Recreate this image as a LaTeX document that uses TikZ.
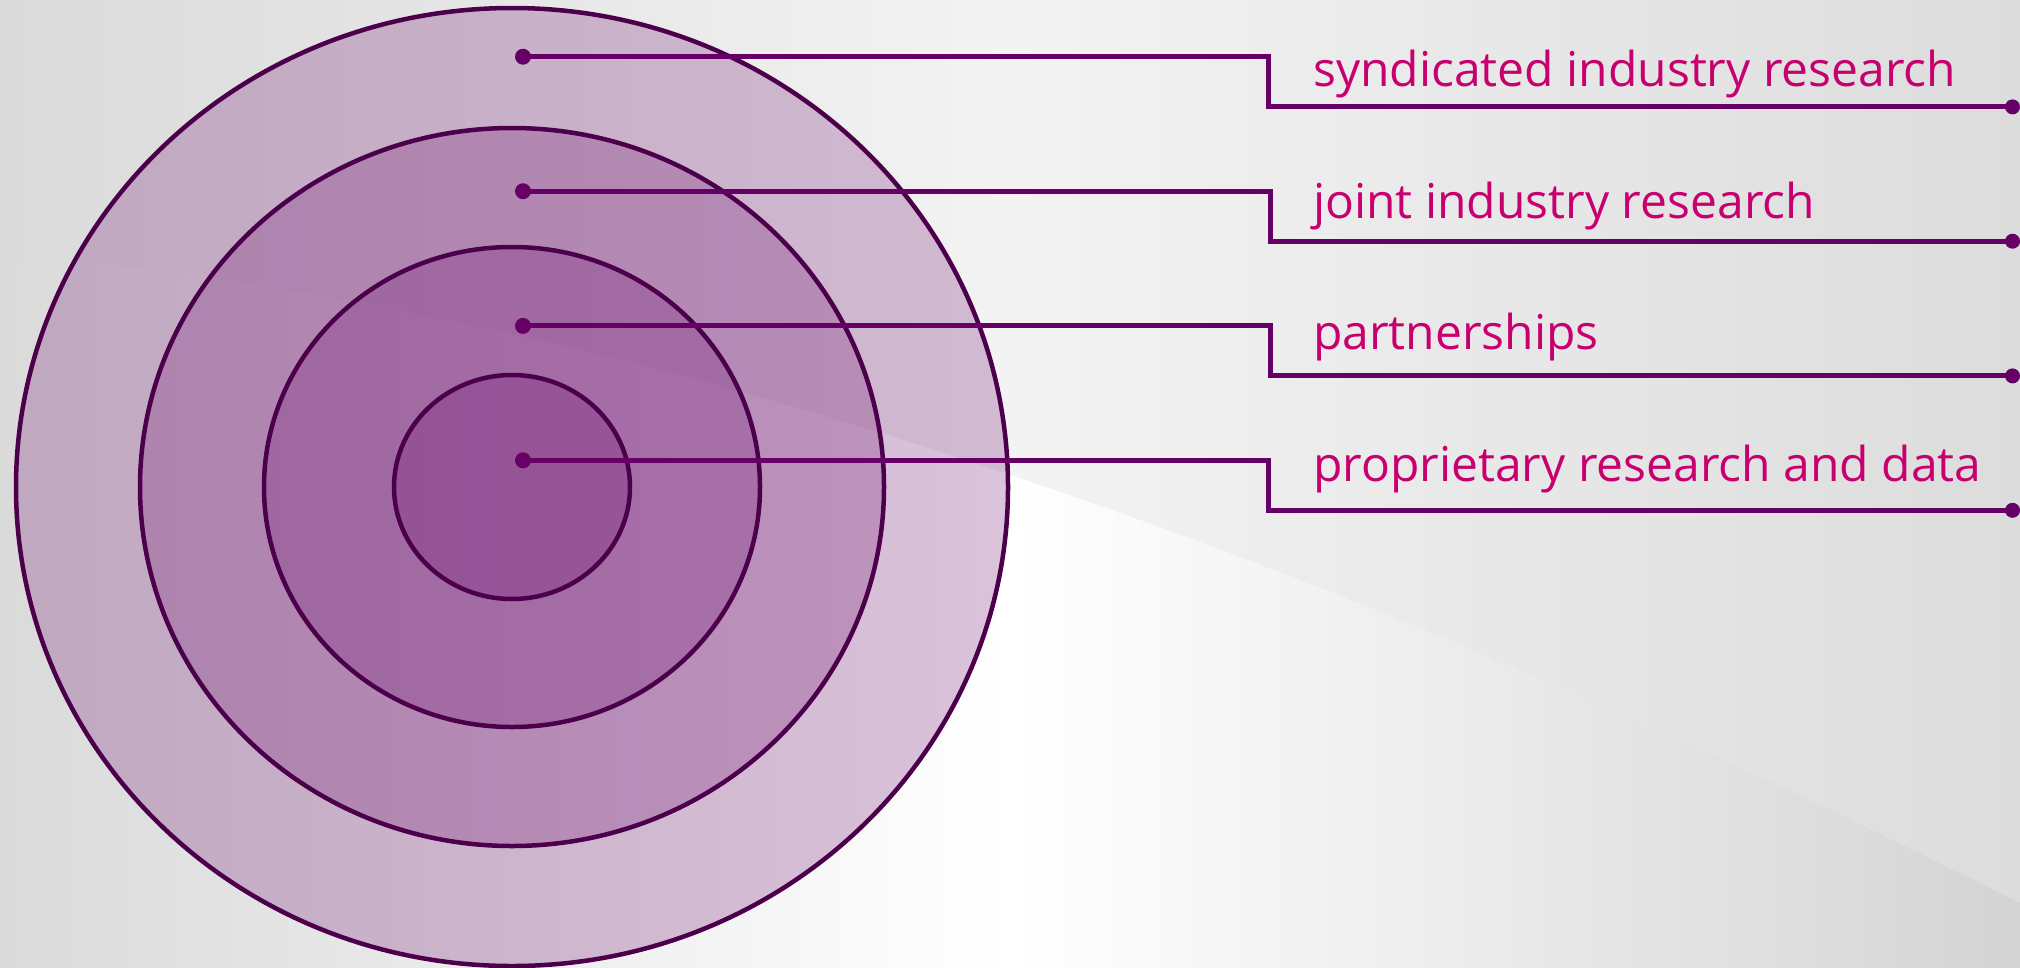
\documentclass[tikz,border=0pt]{standalone}
\usepackage{fontspec}
\setmainfont{Open Sans}
\definecolor{bgL}{HTML}{DADADA}
\definecolor{bgR}{HTML}{D4D4D4}
\definecolor{bgUp}{HTML}{F3F3F3}
\definecolor{bgUR}{HTML}{DCDCDC}
\definecolor{ringfill}{HTML}{701072}
\definecolor{ringline}{HTML}{4C004C}
\definecolor{linkcol}{HTML}{660066}
\definecolor{labelcol}{HTML}{C8006F}
\begin{document}
\begin{tikzpicture}[x=1pt,y=-1pt,
  ring/.style={draw=ringline, line width=4.5pt, fill=ringfill, fill opacity=0.25},
  dotstart/.style={circle, fill=linkcol, inner sep=0pt, minimum size=16pt},
  dotend/.style={circle, fill=linkcol, inner sep=0pt, minimum size=15pt},
  link/.style={draw=linkcol, line width=5pt},
  itemtext/.style={anchor=base west, inner sep=0pt, text=labelcol,
                   font=\fontsize{48}{56}\selectfont}]

% canvas: light sweep below the curve, slightly greyer band above it
\useasboundingbox (0,0) rectangle (2020,967);
\shade[left color=bgL, right color=bgR, middle color=white] (0,0) rectangle (2020,967);
\shade[left color=bgL, right color=bgUR, middle color=bgUp]
  (0,0) -- (2020,0) -- (2020,903) .. controls (1300,540) and (600,300) .. (0,255) -- cycle;

% concentric rings
\draw[ring] (512,487) ellipse [x radius=496pt, y radius=479pt];
\draw[ring] (512,487) ellipse [x radius=372pt, y radius=359pt];
\draw[ring] (512,487) ellipse [x radius=248pt, y radius=240pt];
\draw[ring] (512,487) ellipse [x radius=118pt, y radius=112pt];

% leader dots
\node[dotstart] (d1) at (523,56.7) {};
\node[dotstart] (d2) at (523,191.2) {};
\node[dotstart] (d3) at (523,325.9) {};
\node[dotstart] (d4) at (523,460.3) {};
\node[dotend] (e1) at (2012.5,106.9) {};
\node[dotend] (e2) at (2012.5,241.2) {};
\node[dotend] (e3) at (2012.5,375.9) {};
\node[dotend] (e4) at (2012.5,510.3) {};

% step corners
\coordinate (k1) at (1268,56.7);
\coordinate (k2) at (1270,191.2);
\coordinate (k3) at (1270,325.9);
\coordinate (k4) at (1268,460.3);

\draw[link] (d1.center) -- (k1) |- (e1.center);
\draw[link] (d2.center) -- (k2) |- (e2.center);
\draw[link] (d3.center) -- (k3) |- (e3.center);
\draw[link] (d4.center) -- (k4) |- (e4.center);

% labels
\node[itemtext] (t1) at (1313,86) {syndicated industry research};
\node[itemtext] (t2) at (1313,218) {joint industry research};
\node[itemtext] (t3) at (1313,349) {partnerships};
\node[itemtext] (t4) at (1313,481) {proprietary research and data};
\end{tikzpicture}
\end{document}
